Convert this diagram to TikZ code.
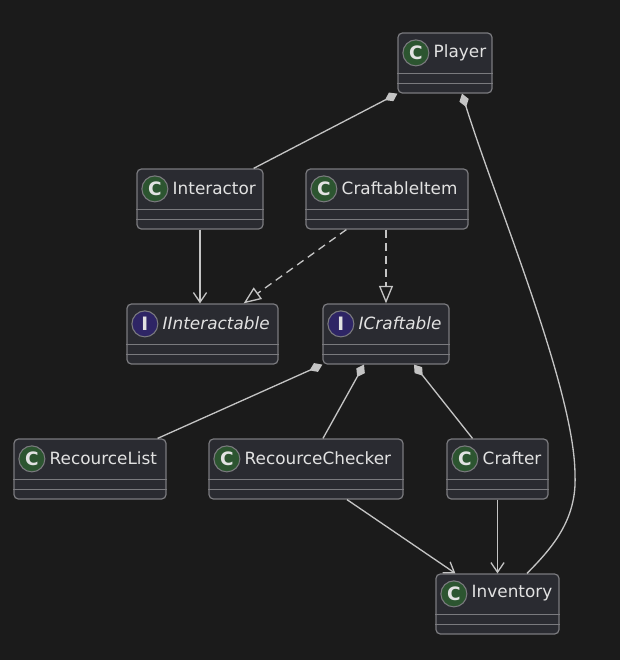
\documentclass[tikz,border=0pt]{standalone}
\usepackage{fontspec}
\setmainfont{DejaVu Sans}
\usepackage{tikz}
\usetikzlibrary{fit}
\usetikzlibrary{arrows.meta}

\definecolor{bgcol}{HTML}{1B1B1B}
\definecolor{boxfill}{HTML}{2A2B31}
\definecolor{boxline}{HTML}{7A7A7E}
\definecolor{linecol}{HTML}{C4C4C4}
\definecolor{textcol}{HTML}{E2E2E2}
\definecolor{cspotfill}{HTML}{2C5530}
\definecolor{ispotfill}{HTML}{2E2565}

\tikzset{
  classbox/.style={draw=boxline,fill=boxfill,line width=0.7pt,rounded corners=2.5pt,inner sep=0pt},
  compline/.style={draw=boxline,line width=0.7pt},
  cspot/.style={circle,draw=boxline,fill=cspotfill,line width=0.6pt,minimum size=0.52cm,inner sep=0pt,text=textcol,font=\bfseries\fontsize{10.5}{10.5}\selectfont},
  ispot/.style={cspot,fill=ispotfill},
  classlabel/.style={anchor=west,inner sep=0pt,text=textcol,font=\fontsize{9.6}{11}\selectfont}
}

% name, left, top, right, spot style, letter, label
\newcommand{\umlclass}[7]{%
  \node[classbox,fit={(#2,#3) (#4,#3+60)}] (#1) {};
  \draw[compline] ([yshift=0.4cm]#1.south west) -- ([yshift=0.4cm]#1.south east);
  \draw[compline] ([yshift=0.2cm]#1.south west) -- ([yshift=0.2cm]#1.south east);
  \node[#5] (#1-spot) at ([xshift=0.37cm,yshift=-0.41cm]#1.north west) {#6};
  \node[classlabel] (#1-label) at ([xshift=0.72cm,yshift=-0.4cm]#1.north west) {#7};
}

\begin{document}
\begin{tikzpicture}[x=0.02cm,y=-0.02cm]
\fill[bgcol] (0,0) rectangle (620,660);
\useasboundingbox (0,0) rectangle (620,660);

\umlclass{player}{398}{33}{492}{cspot}{C}{Player}
\umlclass{interactor}{137}{169}{263}{cspot}{C}{Interactor}
\umlclass{craftableitem}{306}{169}{468}{cspot}{C}{CraftableItem}
\umlclass{iinteractable}{127}{304}{278}{ispot}{I}{\itshape IInteractable}
\umlclass{icraftable}{323}{304}{449}{ispot}{I}{\itshape ICraftable}
\umlclass{recourcelist}{14}{439}{166}{cspot}{C}{RecourceList}
\umlclass{recourcechecker}{209}{439}{403}{cspot}{C}{RecourceChecker}
\umlclass{crafter}{447}{439}{548}{cspot}{C}{Crafter}
\umlclass{inventory}{436}{574}{559}{cspot}{C}{Inventory}

\coordinate (bend) at (575,475);

\begin{scope}[line width=0.75pt,
              comp/.style={draw=linecol,{Diamond[fill=linecol,length=8pt,width=5.5pt]}-},
              assoc/.style={draw=linecol,-{Straight Barb[length=5.5pt,width=7.5pt]}},
              real/.style={draw=linecol,dash pattern=on 4.5pt off 3pt,
                           -{Triangle[open,fill=bgcol,length=10pt,width=8pt]}}]
    \path (player.south west) edge [comp] ([xshift=-0.2cm]interactor.north east);
    \draw [comp] ([xshift=0.34cm]player.south) .. controls (495,200) and (575,390) .. (bend)
        .. controls (577,520) and (552,548) .. ([xshift=0.59cm]inventory.north);
    \path (interactor.south) edge [assoc] (interactor.south |- iinteractable.north);
    \path ([xshift=0.82cm]craftableitem.south west) edge [real] ([xshift=-0.7cm]iinteractable.north east);
    \path (icraftable.north |- craftableitem.south) edge [real] (icraftable.north);
    \path (icraftable.south west) edge [comp] ([xshift=-0.18cm]recourcelist.north east);
    \path ([xshift=-0.44cm]icraftable.south) edge [comp] ([xshift=0.34cm]recourcechecker.north);
    \path ([xshift=0.56cm]icraftable.south) edge [comp] ([xshift=-0.5cm]crafter.north);
    \path ([xshift=0.82cm]recourcechecker.south) edge [assoc] ([xshift=0.4cm]inventory.north west);
    \path (crafter.south) edge [assoc] (crafter.south |- inventory.north);
\end{scope}
\end{tikzpicture}
\end{document}
